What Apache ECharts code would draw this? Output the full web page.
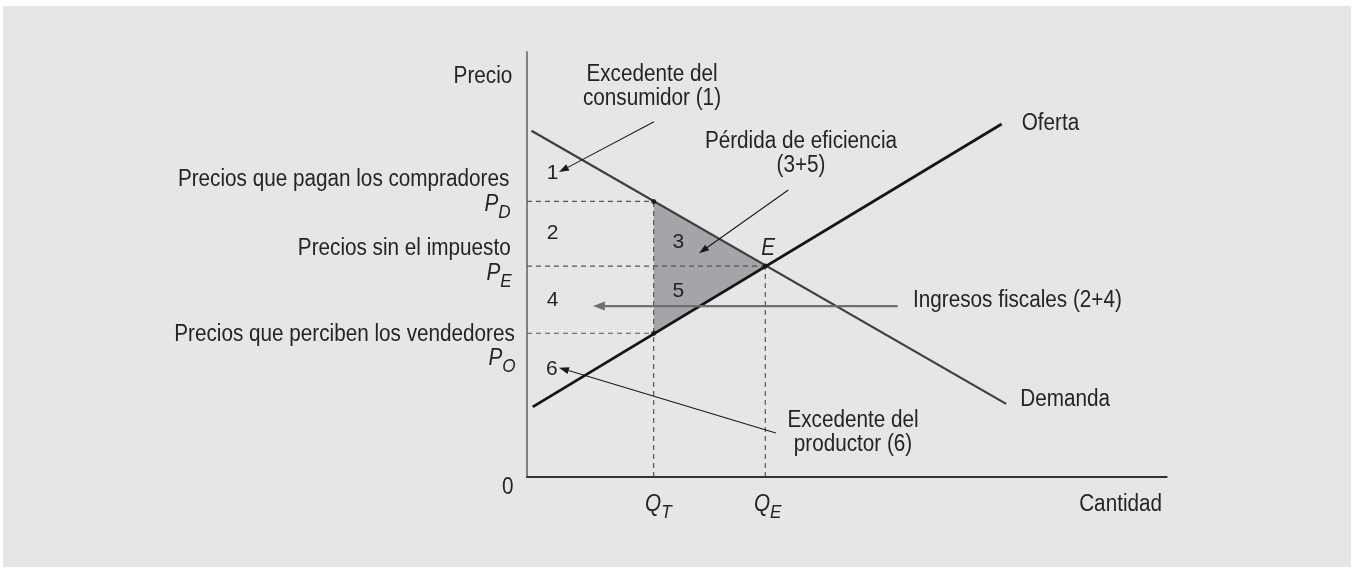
<!DOCTYPE html>
<html>
<head>
<meta charset="utf-8">
<script src="https://cdn.jsdelivr.net/npm/echarts@6/dist/echarts.min.js"></script>
<style>
html,body{margin:0;padding:0;background:#ffffff;}
#chart{position:absolute;left:3px;top:6px;width:1348px;height:561px;background:#e6e6e6;}
</style>
</head>
<body>
<div id="chart"></div>
<script>
// ---------- data (axis units: 0..10 on both axes) ----------
const xMax = 10;
const yMax = 10;
const demand = [[0.07, 8.14], [7.49, 1.72]];
const supply = [[0.09, 1.65], [7.42, 8.30]];
const qValues = [1.98, 3.725];            // Q_T, Q_E
const qSubs = ['T', 'E'];
const qLabelPos = [[1.845, -0.651], [3.548, -0.651]];
const pValues = [6.48, 4.96, 3.38];       // P_D, P_E, P_O
const pSubs = ['D', 'E', 'O'];
const pLabelPos = [[-0.255, 6.40], [-0.24, 4.79], [-0.18, 2.79]];
const pDescriptions = ['Precios que pagan los compradores', 'Precios sin el impuesto', 'Precios que perciben los vendedores'];
const pDescPos = [[-0.277, 6.98], [-0.255, 5.36], [-0.19, 3.34]];
const regionNumbers = ['1', '2', '3', '4', '5', '6'];
const regionPos = [[0.40, 7.14], [0.40, 5.73], [2.365, 5.53], [0.40, 4.16], [2.365, 4.36], [0.39, 2.54]];
const arrows = [
  [[1.985, 8.354], [0.50, 7.17]],
  [[4.085, 6.748], [2.689, 5.26]],
  [[5.795, 4.02], [1.03, 4.02]],
  [[3.89, 1.035], [0.50, 2.57]]
];
const notes = ['Excedente del\nconsumidor (1)', 'Pérdida de eficiencia\n(3+5)', 'Ingresos fiscales (2+4)', 'Excedente del\nproductor (6)'];
const notePos = [[1.954, 9.17], [4.283, 7.61], [6.034, 4.14], [5.096, 1.04]];
const noteAlign = ['center', 'center', 'left', 'center'];
const curveNames = ['Oferta', 'Demanda'];
const curveNamePos = [[7.733, 8.30], [7.71, 1.81]];
const axisNames = ['Precio', 'Cantidad', '0'];
const axisNamePos = [[-0.23, 9.41], [9.927, -0.66], [-0.30, -0.26]];
const axisNameAlign = ['right', 'right', 'center'];
const eqLabel = 'E';
const eqLabelPos = [3.77, 5.38];

// ---------- derived ----------
const QT = qValues[0], QE = qValues[1];
const PD = pValues[0], PE = pValues[1], PO = pValues[2];
const triangle = [[QT, PD], [QE, PE], [QT, PO]];
const guides = [
  [[0, PD], [QT, PD]],
  [[0, PE], [QE, PE]],
  [[0, PO], [QT, PO]],
  [[QT, 0], [QT, PD]],
  [[QE, 0], [QE, PE]]
];
const dots = [[QT, PD], [QT, PO], [QE, PE]];

const FONT = '"Liberation Sans", Arial, Helvetica, sans-serif';
const INK = '#242424';
const SX = 0.9;
const MAIN_SIZE = 23, SUB_SIZE = 19, SUB_DROP = 8.3;

const measureCtx = document.createElement('canvas').getContext('2d');
function textW(t, size, italic) {
  measureCtx.font = (italic ? 'italic ' : '') + size + 'px ' + FONT;
  return measureCtx.measureText(t).width;
}

function mainText(api, pos, text, align) {
  const p = api.coord(pos);
  return {
    type: 'text', x: p[0], y: p[1], scaleX: SX,
    style: { text: text, fontSize: MAIN_SIZE, fontFamily: FONT, fill: INK, align: align, verticalAlign: 'middle', lineHeight: 24 }
  };
}
function italicText(x, y, text, size, align) {
  return {
    type: 'text', x: x, y: y, scaleX: SX,
    style: { text: text, fontSize: size, fontStyle: 'italic', fontFamily: FONT, fill: INK, align: align, verticalAlign: 'middle' }
  };
}
function subLabel(api, pos, main, sub, align) {
  const p = api.coord(pos);
  const out = [];
  if (align === 'right') {
    const sw = textW(sub, SUB_SIZE, true) * SX;
    out.push(italicText(p[0], p[1] + SUB_DROP, sub, SUB_SIZE, 'right'));
    out.push(italicText(p[0] - sw, p[1], main, MAIN_SIZE, 'right'));
  } else {
    const mw = textW(main, MAIN_SIZE, true) * SX;
    out.push(italicText(p[0], p[1], main, MAIN_SIZE, 'left'));
    out.push(italicText(p[0] + mw, p[1] + SUB_DROP, sub, SUB_SIZE, 'left'));
  }
  return out;
}

const chart = echarts.init(document.getElementById('chart'), null, { renderer: 'canvas' });

const series = [];

// shaded deadweight-loss triangle
series.push({
  type: 'custom', silent: true, clip: false, z: 1,
  data: [[0, 0]],
  renderItem: function (params, api) {
    return { type: 'polygon', shape: { points: triangle.map(function (d) { return api.coord(d); }) }, style: { fill: '#a5a5a9' } };
  }
});

// dashed guide lines
guides.forEach(function (g) {
  series.push({
    type: 'line', data: g, symbol: 'none', silent: true, z: 2,
    lineStyle: { color: '#555555', width: 1.2, type: [5, 4] }
  });
});

// demand & supply
series.push({ type: 'line', name: 'Demanda', data: demand, symbol: 'none', silent: true, z: 3,
  lineStyle: { color: '#3e3e3e', width: 2.2 } });
series.push({ type: 'line', name: 'Oferta', data: supply, symbol: 'none', silent: true, z: 3,
  lineStyle: { color: '#151515', width: 2.8 } });

// dots
series.push({ type: 'scatter', data: dots, symbolSize: 5, silent: true, z: 4, itemStyle: { color: '#111111' } });

// arrows
series.push({
  type: 'custom', silent: true, clip: false, z: 5,
  data: [[0, 0]],
  renderItem: function (params, api) {
    const children = [];
    arrows.forEach(function (a, i) {
      const p0 = api.coord(a[0]);
      const p1 = api.coord(a[1]);
      const dx = p1[0] - p0[0], dy = p1[1] - p0[1];
      const len = Math.sqrt(dx * dx + dy * dy);
      const ux = dx / len, uy = dy / len;
      const isRev = (i === 2);
      const hl = isRev ? 12 : 10, hw = isRev ? 4.5 : 3.5;
      const bx = p1[0] - ux * hl, by = p1[1] - uy * hl;
      const color = isRev ? '#6e6e6e' : '#1a1a1a';
      children.push({ type: 'line', shape: { x1: p0[0], y1: p0[1], x2: bx, y2: by },
        style: { stroke: color, lineWidth: isRev ? 2.2 : 1.1 } });
      children.push({ type: 'polygon', shape: { points: [[p1[0], p1[1]], [bx - uy * hw, by + ux * hw], [bx + uy * hw, by - ux * hw]] },
        style: { fill: color } });
    });
    return { type: 'group', children: children };
  }
});

// texts
series.push({
  type: 'custom', silent: true, clip: false, z: 6,
  data: [[0, 0]],
  renderItem: function (params, api) {
    let c = [];
    axisNames.forEach(function (t, i) { c.push(mainText(api, axisNamePos[i], t, axisNameAlign[i])); });
    notes.forEach(function (t, i) { c.push(mainText(api, notePos[i], t, noteAlign[i])); });
    curveNames.forEach(function (t, i) { c.push(mainText(api, curveNamePos[i], t, 'left')); });
    pDescriptions.forEach(function (t, i) { c.push(mainText(api, pDescPos[i], t, 'right')); });
    pSubs.forEach(function (s, i) { c = c.concat(subLabel(api, pLabelPos[i], 'P', s, 'right')); });
    qSubs.forEach(function (s, i) { c = c.concat(subLabel(api, qLabelPos[i], 'Q', s, 'left')); });
    regionNumbers.forEach(function (t, i) {
      const p = api.coord(regionPos[i]);
      c.push({ type: 'text', x: p[0], y: p[1],
        style: { text: t, fontSize: 21, fontFamily: FONT, fill: INK, align: 'center', verticalAlign: 'middle' } });
    });
    const pe = api.coord(eqLabelPos);
    c.push(italicText(pe[0], pe[1], eqLabel, MAIN_SIZE, 'center'));
    return { type: 'group', children: c };
  }
});

chart.setOption({
  animation: false,
  backgroundColor: '#e6e6e6',
  grid: { left: 524, top: 45.7, right: 184.3, bottom: 90, containLabel: false },
  xAxis: {
    type: 'value', min: 0, max: xMax,
    axisLine: { show: true, onZero: false, lineStyle: { color: '#333333', width: 2 } },
    axisTick: { show: false }, axisLabel: { show: false }, splitLine: { show: false }
  },
  yAxis: {
    type: 'value', min: 0, max: yMax,
    axisLine: { show: true, onZero: false, lineStyle: { color: '#5f5f5f', width: 1.5 } },
    axisTick: { show: false }, axisLabel: { show: false }, splitLine: { show: false }
  },
  series: series
});
</script>
</body>
</html>
